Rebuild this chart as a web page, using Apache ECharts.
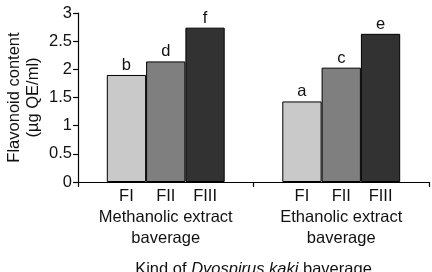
<!DOCTYPE html>
<html>
<head>
<meta charset="utf-8">
<script src="https://cdn.jsdelivr.net/npm/echarts@6/dist/echarts.min.js"></script>
<style>
  html, body { margin: 0; padding: 0; background: #fff; }
  #chart { width: 432px; height: 272px; }
</style>
</head>
<body>
<div id="chart"></div>
<script>
// groups on the x axis, one series per fraction
var groups = ["Methanolic extract\nbaverage", "Ethanolic extract\nbaverage"];
var fractions = ["FI", "FII", "FIII"];
var valuesFI = [1.9, 1.43];
var valuesFII = [2.14, 2.03];
var valuesFIII = [2.74, 2.63];
// significance letters above each bar
var lettersFI = ["b", "a"];
var lettersFII = ["d", "c"];
var lettersFIII = ["f", "e"];
var yTicks = { min: 0, max: 3, step: 0.5 };

var FONT = "Liberation Sans, Arial, sans-serif";
var FS = 16.5;
var BAR_W = 39.3;
var colors = ["#c9c9c9", "#7f7f7f", "#323232"];

function series(name, data, letters, color) {
  return {
    name: name, type: "bar", data: data,
    barWidth: BAR_W, barGap: "0%",
    itemStyle: { color: color, borderColor: "#000", borderWidth: 1 },
    label: {
      show: true, position: "top", distance: 1, color: "#111",
      fontFamily: FONT, fontSize: FS,
      formatter: function (p) { return letters[p.dataIndex]; }
    }
  };
}

var chart = echarts.init(document.getElementById("chart"), null, { renderer: "canvas" });
chart.setOption({
  animation: false,
  // v6: keep the grid where it is, labels may sit outside it
  grid: { left: 78, right: 3, top: 13, bottom: 90, containLabel: false, outerBoundsMode: "none" },
  xAxis: {
    type: "category", data: groups,
    name: "Kind of {i|Dyospirus kaki} baverage",
    nameLocation: "middle", nameGap: 77, nameMoveOverlap: false,
    nameTextStyle: { color: "#111", fontFamily: FONT, fontSize: FS, lineHeight: 20,
      rich: { i: { fontStyle: "italic", fontFamily: FONT, fontSize: FS, color: "#111" } } },
    axisLine: { lineStyle: { color: "#000", width: 1.2 } },
    axisTick: { show: true, length: 5, lineStyle: { color: "#000", width: 1.2 } },
    axisLabel: {
      margin: 4, interval: 0,
      formatter: function (v) {
        var f = fractions.map(function (s) { return "{f|" + s + "}"; }).join("");
        var t = v.split("\n").map(function (s) { return "{t|" + s + "}"; }).join("\n");
        return f + "\n" + t;
      },
      rich: {
        f: { width: BAR_W, align: "center", fontFamily: FONT, fontSize: FS, lineHeight: 21, color: "#111" },
        t: { fontFamily: FONT, fontSize: FS, lineHeight: 21, color: "#111" }
      }
    },
    splitLine: { show: false }
  },
  yAxis: {
    type: "value", min: yTicks.min, max: yTicks.max, interval: yTicks.step,
    name: "Flavonoid content\n(µg QE/ml)",
    nameLocation: "middle", nameGap: 35, nameRotate: 90, nameMoveOverlap: false,
    nameTextStyle: { color: "#111", fontFamily: FONT, fontSize: FS, lineHeight: 19, align: "center" },
    axisLine: { show: true, lineStyle: { color: "#000", width: 1.2 } },
    axisTick: { show: true, length: 5, lineStyle: { color: "#000", width: 1.2 } },
    axisLabel: { margin: 6, color: "#111", fontFamily: FONT, fontSize: FS },
    splitLine: { show: false }
  },
  series: [
    series(fractions[0], valuesFI, lettersFI, colors[0]),
    series(fractions[1], valuesFII, lettersFII, colors[1]),
    series(fractions[2], valuesFIII, lettersFIII, colors[2])
  ]
});
</script>
</body>
</html>
